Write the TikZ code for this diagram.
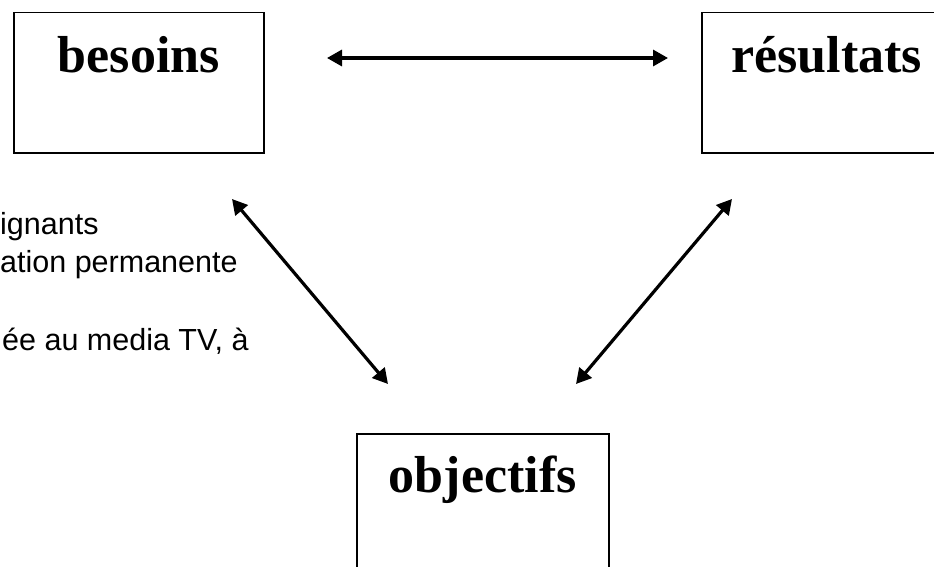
\documentclass[tikz,border=0pt]{standalone}
\usepackage{fontspec}
\setmainfont{Liberation Serif}
\newfontfamily\notefont{Liberation Sans}
\usetikzlibrary{arrows.meta}

\tikzset{
  box/.style={draw=black, line width=1.5pt, rectangle, inner sep=0pt,
              minimum width=250pt, minimum height=140pt},
  boxtitle/.style={font=\fontsize{52}{60}\selectfont\bfseries, anchor=base, inner sep=0pt},
  link/.style={line width=3.2pt, {Triangle[length=15pt,width=16pt]}-{Triangle[length=15pt,width=16pt]}},
  note/.style={font=\notefont\fontsize{30.5}{37}\selectfont, anchor=base west, inner sep=0pt}
}

\begin{document}
\begin{tikzpicture}[x=1pt, y=-1pt]
  \useasboundingbox (0,0) rectangle (934,567);
  \clip (0,0) rectangle (934,567);

  % three boxes
  \node[box, anchor=north west] (besoins)   at (13,12)   {};
  \node[box, anchor=north west] (resultats) at (701,12)  {};
  \node[box, anchor=north west, minimum width=252pt, minimum height=160pt] (objectifs) at (356,433) {};

  \node[boxtitle] (tb) at ([yshift=-61pt]besoins.north)   {besoins};
  \node[boxtitle] (tr) at ([yshift=-61pt]resultats.north) {résultats};
  \node[boxtitle] (to) at ([yshift=-59pt]objectifs.north) {objectifs};

  % notes running off the left edge
  \node[note] (n1) at (0,234) {ignants};
  \node[note] (n2) at (0,272) {ation permanente};
  \node[note] (n3) at (2,350) {ée au media TV, à};

  % arrow end points
  \coordinate (hb) at (327,58);
  \coordinate (hr) at (668,58);
  \coordinate (lb) at (232,199);
  \coordinate (lo) at (388,384);
  \coordinate (rr) at (732,199);
  \coordinate (ro) at (576,384);

  \draw[link] (hb) -- (hr);
  \draw[link] (lb) -- (lo);
  \draw[link] (rr) -- (ro);
\end{tikzpicture}
\end{document}
